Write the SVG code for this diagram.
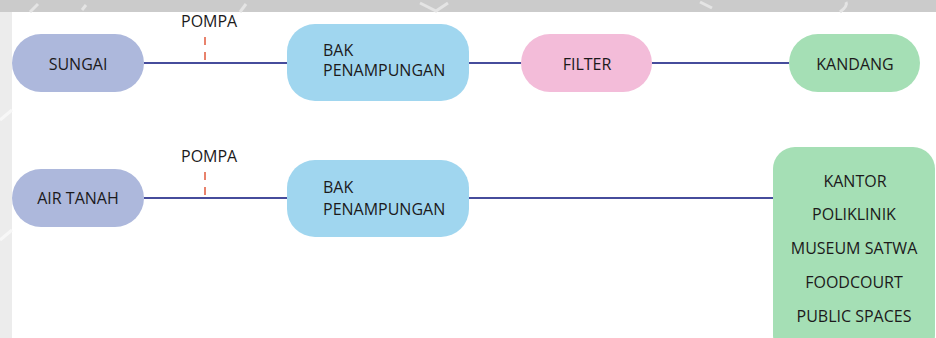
<svg xmlns="http://www.w3.org/2000/svg" width="936" height="338" viewBox="0 0 936 338">
  <style>
    .lbl { font-family: "Open Sans", "Liberation Sans", sans-serif; font-size: 16px; fill: #1c1a1b; }
    .mid { text-anchor: middle; }
    .pipe { stroke: #464c9c; stroke-width: 2; fill: none; }
    .pump { stroke: #e8826c; stroke-width: 2; stroke-dasharray: 8 7; fill: none; }
    .src { fill: #adb8dc; }
    .tank { fill: #a0d6ef; }
    .filter { fill: #f3bcd9; }
    .dest { fill: #a5dfb5; }
  </style>

  <!-- page backdrop -->
  <rect x="0" y="0" width="936" height="338" fill="#ffffff"/>
  <rect x="0" y="0" width="936" height="12" fill="#cbcbcb"/>
  <rect x="0" y="12" width="12" height="326" fill="#ececec"/>
  <g stroke="#e4e4e4" stroke-width="3" fill="none">
    <path d="M30 12 L38 4"/>
    <path d="M82 10 L86 5"/>
    <path d="M240 12 L246 4"/>
    <path d="M420 3 L436 11 L448 3"/>
    <path d="M700 2 L712 8"/>
    <path d="M840 12 Q848 6 846 2"/>
  </g>
  <g stroke="#f7f7f7" stroke-width="3" fill="none">
    <path d="M0 240 L12 230"/>
    <path d="M0 120 L12 110"/>
  </g>

  <!-- connectors -->
  <g id="connectors">
    <line class="pipe" x1="144" y1="63" x2="287" y2="63"/>
    <line class="pipe" x1="469" y1="63" x2="521" y2="63"/>
    <line class="pipe" x1="652" y1="63" x2="789" y2="63"/>
    <line class="pipe" x1="144" y1="198" x2="287" y2="198"/>
    <line class="pipe" x1="469" y1="198" x2="773" y2="198"/>
    <line class="pump" x1="205" y1="37" x2="205" y2="62"/>
    <line class="pump" x1="205" y1="172" x2="205" y2="197"/>
    <text class="lbl" x="181" y="27">POMPA</text>
    <text class="lbl" x="181" y="162">POMPA</text>
  </g>

  <!-- row 1 -->
  <g id="sungai">
    <rect class="src" x="12" y="34" width="132" height="58" rx="29"/>
    <text class="lbl mid" x="78" y="70">SUNGAI</text>
  </g>
  <g id="bak1">
    <rect class="tank" x="287" y="24" width="182" height="77" rx="28"/>
    <text class="lbl" x="323" y="56">BAK</text>
    <text class="lbl" x="323" y="76">PENAMPUNGAN</text>
  </g>
  <g id="filter">
    <rect class="filter" x="521" y="34" width="131" height="58" rx="29"/>
    <text class="lbl mid" x="587" y="70">FILTER</text>
  </g>
  <g id="kandang">
    <rect class="dest" x="789" y="34" width="131" height="58" rx="29"/>
    <text class="lbl mid" x="855" y="70">KANDANG</text>
  </g>

  <!-- row 2 -->
  <g id="air-tanah">
    <rect class="src" x="12" y="169" width="132" height="58" rx="29"/>
    <text class="lbl mid" x="78" y="204">AIR TANAH</text>
  </g>
  <g id="bak2">
    <rect class="tank" x="287" y="160" width="182" height="77" rx="28"/>
    <text class="lbl" x="323" y="193">BAK</text>
    <text class="lbl" x="323" y="215">PENAMPUNGAN</text>
  </g>
  <g id="fasilitas">
    <rect class="dest" x="773" y="147" width="162" height="210" rx="22"/>
    <text class="lbl mid" x="855" y="187">KANTOR</text>
    <text class="lbl mid" x="854" y="220">POLIKLINIK</text>
    <text class="lbl mid" x="854" y="254">MUSEUM SATWA</text>
    <text class="lbl mid" x="854" y="288">FOODCOURT</text>
    <text class="lbl mid" x="854" y="322">PUBLIC SPACES</text>
  </g>
</svg>
